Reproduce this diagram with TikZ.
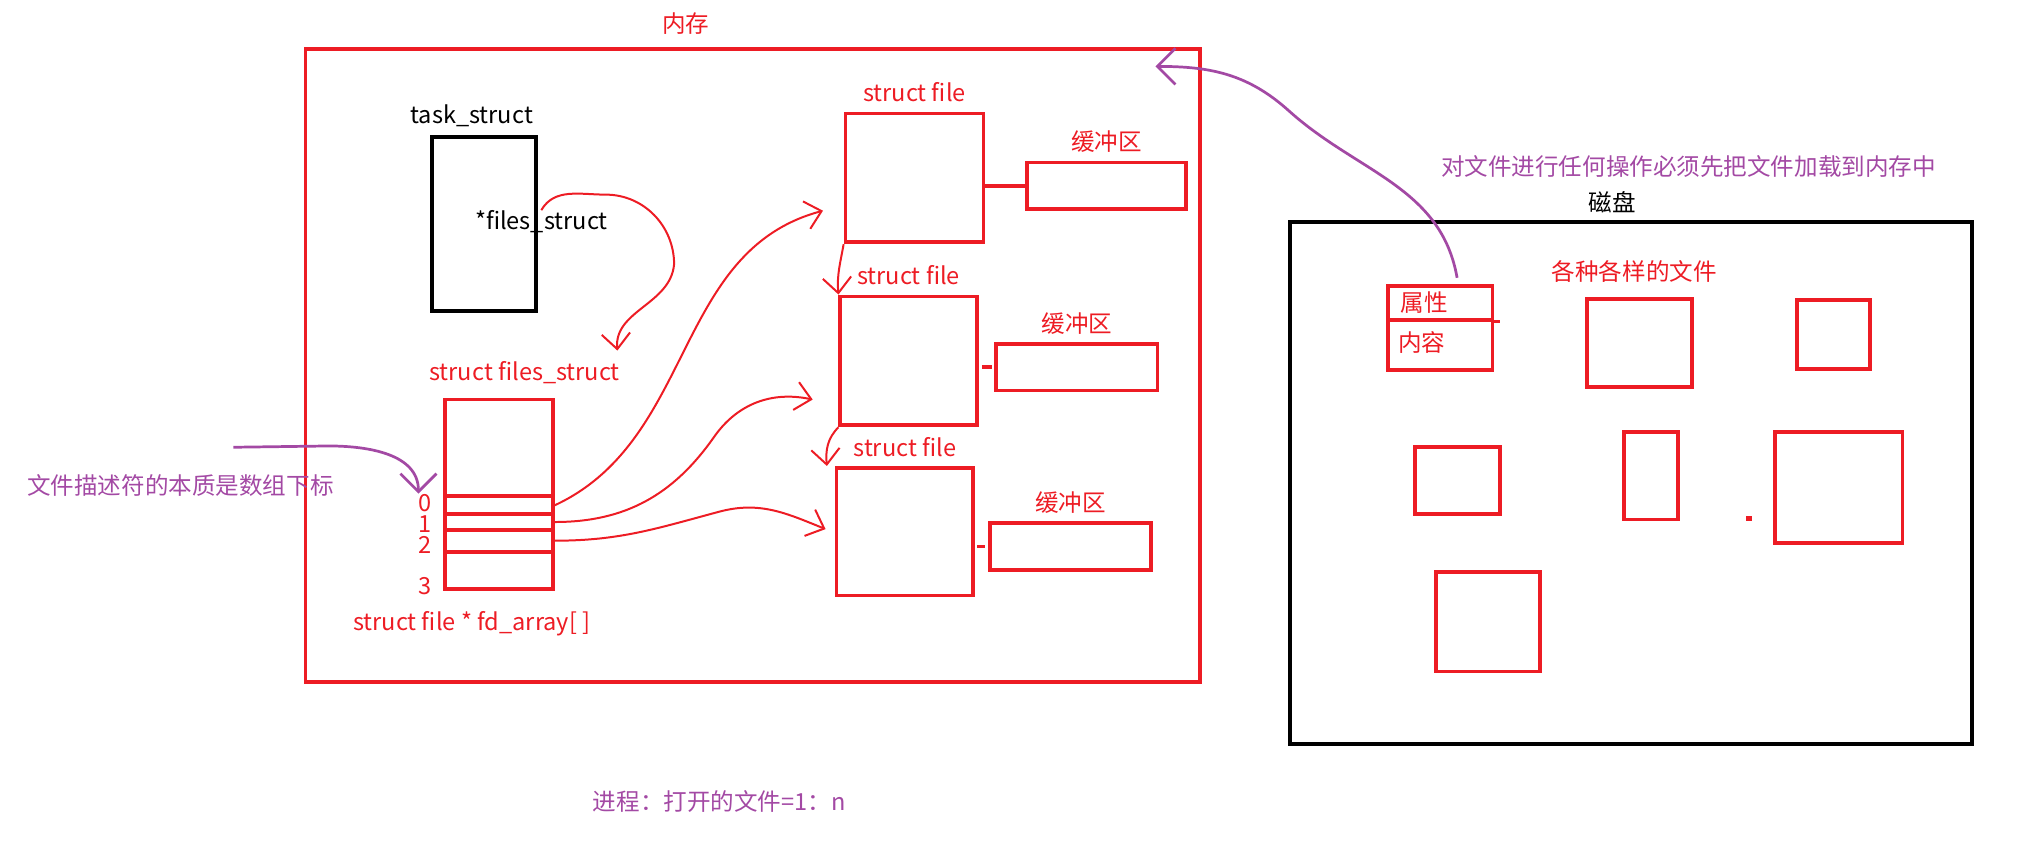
\documentclass[tikz,border=0pt]{standalone}
\usepackage{fontspec}
\setmainfont{Noto Sans CJK SC}
\usetikzlibrary{fit,calc,arrows.meta,positioning}
\definecolor{memred}{RGB}{237,28,36}
\definecolor{notepurple}{RGB}{163,73,164}

\begin{document}
\begin{tikzpicture}[x=0.025cm, y=-0.025cm, font=\fontsize{13}{15}\selectfont,
    redbox/.style={draw=memred, line width=2.1pt, inner sep=0pt},
    blackbox/.style={draw=black, line width=2.1pt, inner sep=0pt},
    redtext/.style={text=memred, inner sep=0pt},
    blacktext/.style={text=black, inner sep=0pt},
    notetext/.style={text=notepurple, inner sep=0pt},
    hand/.style={draw=memred, line width=1.1pt, -{Straight Barb[length=3mm,width=5.5mm]}},
    note/.style={draw=notepurple, line width=1.5pt, -{Straight Barb[length=3.5mm,width=7mm]}},
    link/.style={draw=memred, line width=2.1pt}]
\useasboundingbox (0,0) rectangle (1568,652);

% memory
\node[redbox, fit={(237,38) (931,529)}] (mem) {};
\node[redtext] (memname) at (532,18) {内存};

% task_struct
\node[blackbox, fit={(335,106) (416,241)}] (task) {};
\node[blacktext] (taskname) at (366,90) {task\_struct};
\node[blacktext] (fptr) at (420,172) {*files\_struct};

% files_struct and its fd array
\node[redtext] (fsname) at (407,289) {struct files\_struct};
\node[redbox, fit={(345,310) (429,457)}] (fs) {};
\node[redbox, fit={(345,385) (429,399)}] (slot0) {};
\node[redbox, fit={(345,399) (429,411)}] (slot1) {};
\node[redbox, fit={(345,411) (429,428)}] (slot2) {};
\foreach \n/\y in {0/390,1/407,2/423,3/455}
    \node[redtext] (n\n) at (330,\y) {\n};
\node[redtext] (fdname) at (366,484) {struct file * fd\_array[ ]};
\coordinate (fsin) at (479,272);

% struct file objects with their buffers
\node[redbox, fit={(656,88) (763,188)}] (sf1) {};
\node[redbox, fit={(652,230) (758,330)}] (sf2) {};
\node[redbox, fit={(649,363) (755,462)}] (sf3) {};
\node[redbox, fit={(797,126) (920,162)}] (buf1) {};
\node[redbox, fit={(773,267) (898,303)}] (buf2) {};
\node[redbox, fit={(768,406) (893,442)}] (buf3) {};
\foreach \i in {1,2,3} {
    \node[redtext, above=5pt of sf\i] (sfname\i) {struct file};
    \node[redtext, above=4pt of buf\i] (bufname\i) {缓冲区};
}
\draw[link] (buf1.west -| sf1.east) -- (buf1.west);
\draw[link, shorten <=0.6mm, shorten >=0.4mm] (buf2.west -| sf2.east) -- (buf2.west);
\draw[link, shorten <=0.4mm, shorten >=0.5mm] (buf3.west -| sf3.east) -- (buf3.west);

% hand drawn pointers
\draw[hand] (fptr.north) to[out=60,in=180] (470,151) to[out=0,in=90] (523,205) to[out=-95,in=95] (fsin);
\draw[hand] (slot0.east) to[out=25,in=195] ($(sf1.south west)+(-16,-26)$);
\draw[hand] (slot1.east) to[out=0,in=235] (554,339) to[out=55,in=168] ($(sf2.west)+(-20,30)$);
\draw[hand] (slot2.east) to[out=0,in=195] (558,397) to[out=15,in=158] ($(sf3.west)+(-7,-2)$);
\draw[hand] (sf1.south west) to[out=-100,in=95] (sf2.north west);
\draw[hand] (sf2.south west) to[out=-135,in=95] ($(sf3.north west)+(-6,0)$);

% disk
\node[blackbox, fit={(1001,172) (1530,577)}] (disk) {};
\node[blacktext] (diskname) at (1251,157) {磁盘};
\node[redtext] (kinds) at (1268,211) {各种各样的文件};
\node[redbox, fit={(1077,222) (1158,248)}] (attr) {};
\node[redbox, fit={(1077,248) (1158,287)}] (cont) {};
\node[redtext] (attrname) at (1105,235) {属性};
\node[redtext] (contname) at (1103,266) {内容};
\draw[link] (attr.south east) -- ++(4,0);
\foreach \a/\b/\c/\d [count=\i] in {1231/232/1313/300, 1394/233/1451/286, 1098/347/1164/399,
    1260/335/1302/403, 1377/335/1476/421, 1114/444/1195/521}
    \node[redbox, fit={(\a,\b) (\c,\d)}] (file\i) {};
\node[fill=memred, inner sep=0pt, minimum size=0.1cm] (speck) at (1357,402) {};

% notes
\node[notetext] (loadnote) at (1310,129) {对文件进行任何操作必须先把文件加载到内存中};
\draw[note] ($(attr.north)+(13,-5)$) to[out=100,in=-42] (1000,86) to[out=138,in=0] ($(mem.north east)+(-36,15)$);
\node[notetext] (descnote) at (140,377) {文件描述符的本质是数组下标};
\coordinate (descstart) at (181,347);
\draw[note] (descstart) -- (255,346) to[out=0,in=90] (n0.north west);
\node[notetext] (ratio) at (558,622) {进程：打开的文件=1：n};
\end{tikzpicture}
\end{document}
